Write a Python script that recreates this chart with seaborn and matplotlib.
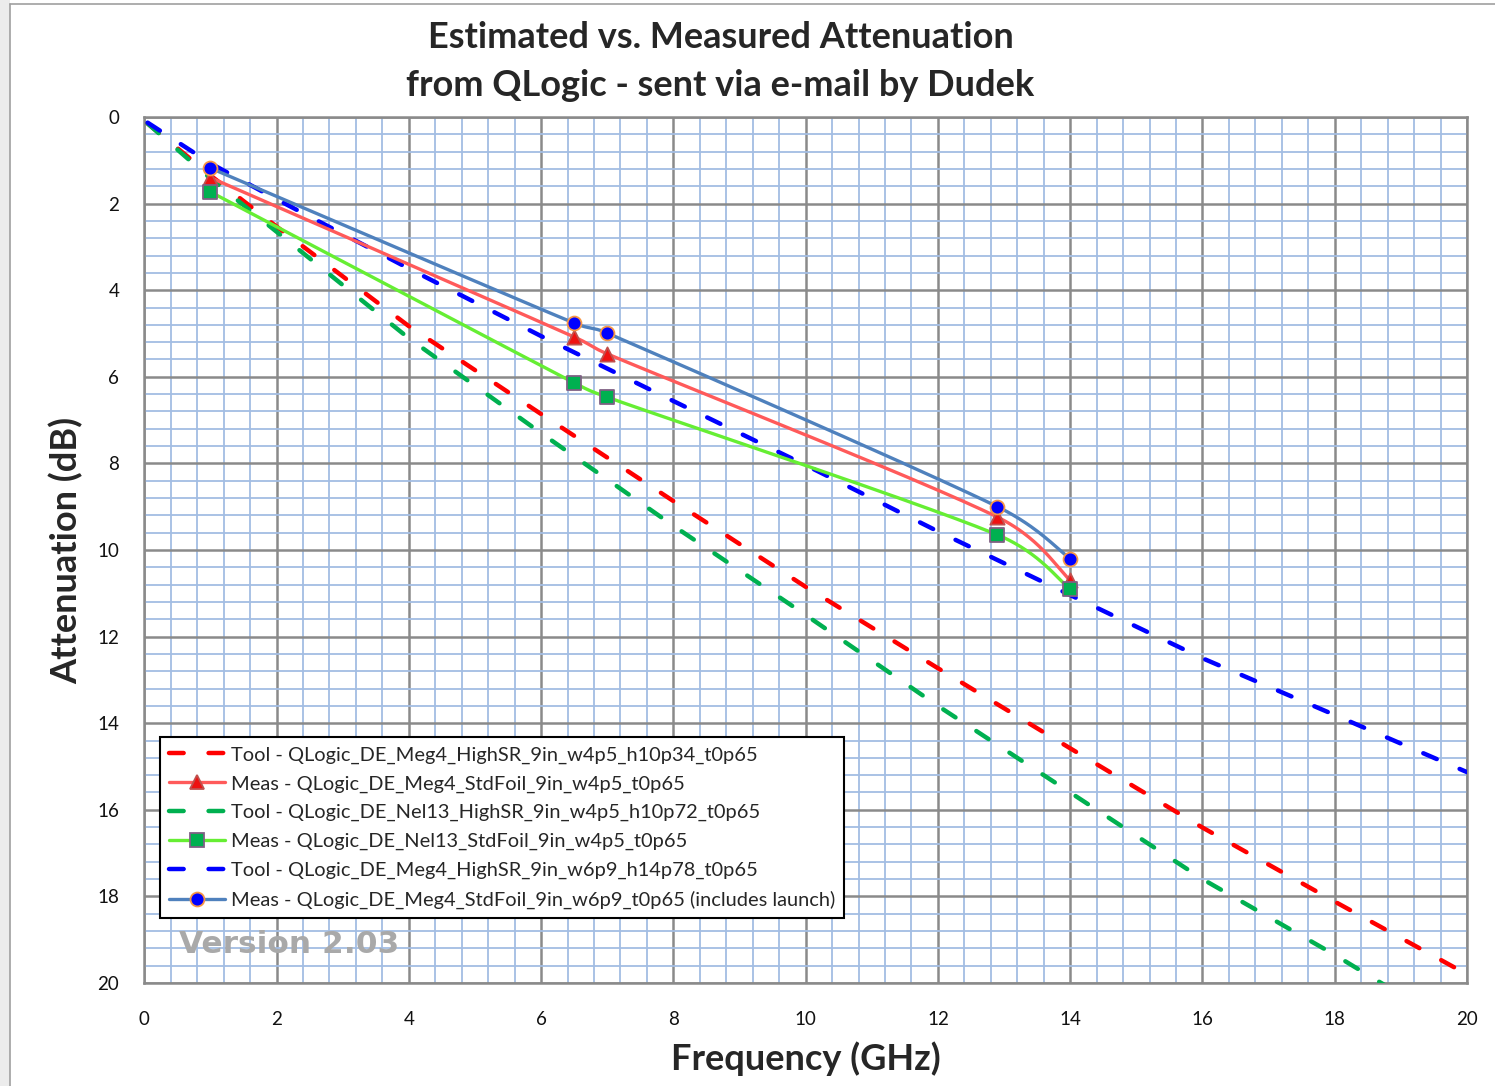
import numpy as np
import pandas as pd
import matplotlib
matplotlib.use("Agg")
import matplotlib.pyplot as plt
from matplotlib.ticker import MultipleLocator
from matplotlib.lines import Line2D
from matplotlib.patches import Rectangle
import seaborn as sns

# ---------------- data ----------------
freq_tool = [0.05, 1, 2, 4, 6, 8, 10, 12, 14, 16, 18, 20]
tool_meg4_w4p5 = [0.15, 1.35, 2.53, 4.83, 6.86, 8.87, 10.85, 12.73, 14.58, 16.41, 18.12, 19.8]
tool_nel13_w4p5 = [0.15, 1.42, 2.65, 5.11, 7.30, 9.44, 11.50, 13.60, 15.60, 17.60, 19.35, 21.2]
tool_meg4_w6p9 = [0.13, 1.07, 1.90, 3.50, 5.06, 6.56, 8.04, 9.57, 11.04, 12.50, 13.81, 15.13]

freq_meas = [1.0, 6.5, 7.0, 12.9, 14.0]
meas_meg4_w4p5 = [1.40, 5.08, 5.47, 9.24, 10.70]
meas_nel13_w4p5 = [1.73, 6.14, 6.47, 9.65, 10.90]
meas_meg4_w6p9 = [1.18, 4.76, 4.99, 9.00, 10.20]

labels = [
    "Tool - QLogic_DE_Meg4_HighSR_9in_w4p5_h10p34_t0p65",
    "Meas - QLogic_DE_Meg4_StdFoil_9in_w4p5_t0p65",
    "Tool - QLogic_DE_Nel13_HighSR_9in_w4p5_h10p72_t0p65",
    "Meas - QLogic_DE_Nel13_StdFoil_9in_w4p5_t0p65",
    "Tool - QLogic_DE_Meg4_HighSR_9in_w6p9_h14p78_t0p65",
    "Meas - QLogic_DE_Meg4_StdFoil_9in_w6p9_t0p65 (includes launch)",
]
x_ticks = [0, 2, 4, 6, 8, 10, 12, 14, 16, 18, 20]
y_ticks = [0, 2, 4, 6, 8, 10, 12, 14, 16, 18, 20]

# ---------------- helpers ----------------
def excel_smooth(xs, ys, sx=66.1, sy=43.3, n=50):
    """Excel-like smoothed line: Catmull-Rom Bezier with control arms clamped
    to half of the segment length (avoids overshoot on short segments)."""
    P = np.column_stack([np.asarray(xs, float) * sx, np.asarray(ys, float) * sy])
    m = len(P)
    Pe = np.vstack([P[0], P, P[-1]])
    out = []
    t = np.linspace(0, 1, n)[:, None]
    for i in range(m - 1):
        p0, p1, p2, p3 = Pe[i], Pe[i + 1], Pe[i + 2], Pe[i + 3]
        L = np.linalg.norm(p2 - p1)
        a1 = (p2 - p0) / 6.0
        a2 = (p3 - p1) / 6.0
        n1, n2 = np.linalg.norm(a1), np.linalg.norm(a2)
        if n1 > 0.5 * L:
            a1 = a1 / n1 * 0.5 * L
        if n2 > 0.5 * L:
            a2 = a2 / n2 * 0.5 * L
        c1 = p1 + a1
        c2 = p2 - a2
        seg = ((1 - t) ** 3) * p1 + 3 * ((1 - t) ** 2) * t * c1 + 3 * (1 - t) * t ** 2 * c2 + t ** 3 * p2
        out.append(seg if i == 0 else seg[1:])
    C = np.vstack(out)
    return C[:, 0] / sx, C[:, 1] / sy

# ---------------- style ----------------
sns.set_style("white")
plt.rcParams["font.family"] = ["Lato", "DejaVu Sans"]

W, H = 1495, 1086
fig = plt.figure(figsize=(W / 100, H / 100), dpi=100)
fig.patch.set_facecolor("white")
ax = fig.add_axes([144.3 / W, 1 - 983 / H, (1467 - 144.3) / W, (983 - 117) / H])

# figure frame (Excel chart area edge)
fig.add_artist(Rectangle((0, 0), 10 / W, 1, transform=fig.transFigure,
                         facecolor="#ececec", edgecolor="none", zorder=0))
fig.add_artist(Line2D([10 / W, 10 / W], [0, 1 - 4 / H], transform=fig.transFigure,
                      color="#a0a0a0", lw=1.2))
fig.add_artist(Line2D([10 / W, 1], [1 - 4 / H, 1 - 4 / H], transform=fig.transFigure,
                      color="#a0a0a0", lw=1.2))

c_tool = ["#ff0000", "#00b050", "#0000ff"]
c_meas = ["#ff5a5a", "#66ee33", "#4f81bd"]

tools = [tool_meg4_w4p5, tool_nel13_w4p5, tool_meg4_w6p9]
meas = [meas_meg4_w4p5, meas_nel13_w4p5, meas_meg4_w6p9]
mk = ["^", "s", "o"]
mk_face = ["#ee1111", "#00b050", "#0000ff"]
mk_edge = ["#c0504d", "#7f6084", "#f79646"]
mk_size = [105, 100, 100]

dash = (3.3, 5.6)
for i in range(3):
    df_t = pd.DataFrame({"f": freq_tool, "a": tools[i]})
    sns.lineplot(data=df_t, x="f", y="a", ax=ax, color=c_tool[i], lw=3.2,
                 dashes=False, sort=False, zorder=3 + i * 0.1)
    ax.lines[-1].set_linestyle((0, dash))
    ax.lines[-1].set_dash_capstyle("round")

for i in range(3):
    sx, sy = excel_smooth(freq_meas, meas[i])
    df_s = pd.DataFrame({"f": sx, "a": sy})
    sns.lineplot(data=df_s, x="f", y="a", ax=ax, color=c_meas[i], lw=2.4,
                 sort=False, zorder=4)
    df_m = pd.DataFrame({"f": freq_meas, "a": meas[i]})
    sns.scatterplot(data=df_m, x="f", y="a", ax=ax, marker=mk[i], s=mk_size[i],
                    color=mk_face[i], edgecolor=mk_edge[i], linewidth=1.3, zorder=5)

# ---------------- axes ----------------
ax.set_xlim(0, 20)
ax.set_ylim(20, 0)
ax.set_xticks(x_ticks)
ax.set_yticks(y_ticks)
ax.xaxis.set_minor_locator(MultipleLocator(0.4))
ax.yaxis.set_minor_locator(MultipleLocator(0.4))
ax.set_axisbelow(True)
ax.grid(which="minor", color="#a3bde3", lw=1.3)
ax.grid(which="major", color="#8a8a8a", lw=1.8)
for s in ax.spines.values():
    s.set_color("#8a8a8a")
    s.set_linewidth(1.8)
ax.tick_params(axis="x", which="both", length=0, pad=20, labelsize=13.5, colors="#111111")
ax.tick_params(axis="y", which="major", length=6, width=1.8, color="#8a8a8a",
               direction="out", pad=12, labelsize=13.5, labelcolor="#111111")
ax.tick_params(axis="y", which="minor", length=0)
ax.set_xlabel("Frequency (GHz)", fontsize=26, fontweight="bold", labelpad=10)
ax.set_ylabel("Attenuation (dB)", fontsize=26, fontweight="bold", labelpad=10)

# title
fig.text(0.482, 1 - 37 / H, "Estimated vs. Measured Attenuation", ha="center", va="center",
         fontsize=26, fontweight="bold")
fig.text(0.482, 1 - 86 / H, "from QLogic - sent via e-mail by Dudek", ha="center", va="center",
         fontsize=26, fontweight="bold")

# watermark
ax.text(0.026, 0.044, "Version 2.03", transform=ax.transAxes, ha="left", va="center",
        fontsize=22.5, fontweight="bold", color="#a9a9a9", family="DejaVu Sans", zorder=6)

# ---------------- legend ----------------
handles = []
for i in range(3):
    handles.append(Line2D([], [], color=c_tool[i], lw=3.2, linestyle=(0, dash),
                          dash_capstyle="round"))
    handles.append(Line2D([], [], color=c_meas[i], lw=2.4, marker=mk[i],
                          markersize=10, markerfacecolor=mk_face[i],
                          markeredgecolor=mk_edge[i], markeredgewidth=1.3))
leg = ax.legend(handles, labels, loc="lower left", bbox_to_anchor=(0.0115, 0.075),
                borderaxespad=0, fontsize=14.4, frameon=True, fancybox=False,
                edgecolor="black", framealpha=1, handlelength=2.8, handletextpad=0.3,
                labelspacing=0.58, borderpad=0.45, numpoints=1)
leg.get_frame().set_linewidth(1.5)
leg.set_zorder(7)

fig.savefig("out.png", dpi=100, facecolor="white")
